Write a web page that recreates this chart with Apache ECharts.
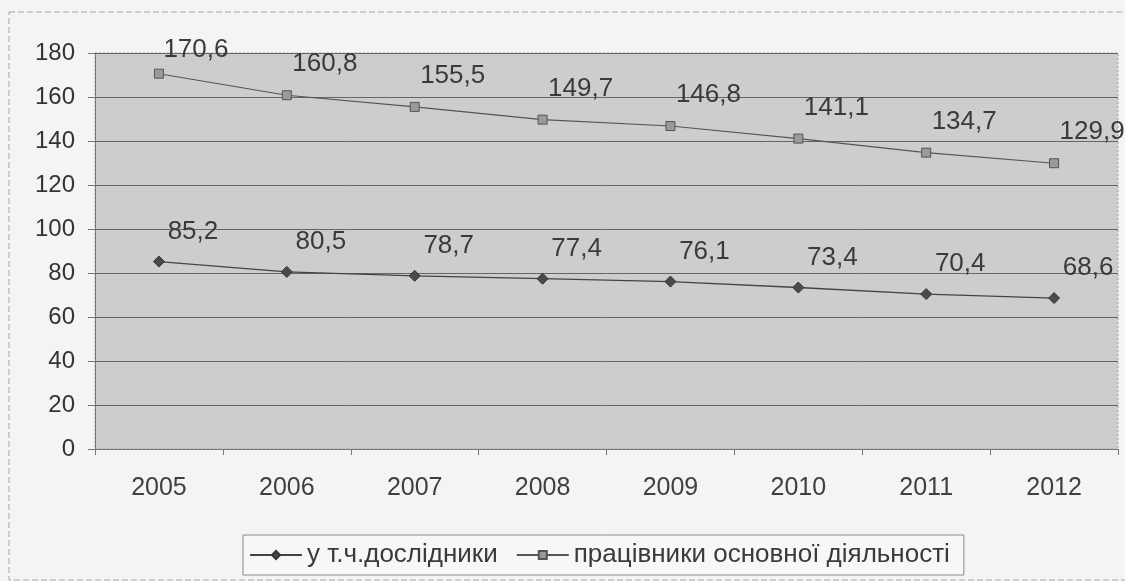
<!DOCTYPE html>
<html><head><meta charset="utf-8">
<script src="https://cdn.jsdelivr.net/npm/echarts@6/dist/echarts.min.js"></script>
<style>html,body{margin:0;padding:0;background:#f4f4f2;}#c{width:1125px;height:581px;}</style>
</head><body><div id="c"></div>
<script>
const years = ['2005','2006','2007','2008','2009','2010','2011','2012'];
const researchers = [85.2, 80.5, 78.7, 77.4, 76.1, 73.4, 70.4, 68.6];
const mainStaff = [170.6, 160.8, 155.5, 149.7, 146.8, 141.1, 134.7, 129.9];
const yTicks = [0, 20, 40, 60, 80, 100, 120, 140, 160, 180];
const seriesNames = ['у т.ч.дослідники', 'працівники основної діяльності'];

const fmt = p => String(p.value).replace('.', ',');
const font = 'Liberation Sans, Arial, sans-serif';
// first label of the upper series sits lower (constrained by top of plot)
const mainStaffData = mainStaff.map((v, i) => i === 0 ? {value: v, label: {offset: [37, -1]}} : v);

const chart = echarts.init(document.getElementById('c'));
chart.setOption({
  backgroundColor: '#f4f4f2',
  animation: false,
  graphic: [
    {type:'rect', shape:{x:9, y:12, width:1130, height:568}, style:{fill:'none', stroke:'#a5a5a5', lineWidth:1, lineDash:[6,3]}},
    {type:'rect', shape:{x:95, y:53, width:1023, height:396}, style:{fill:'#cdcdcb', stroke:'#a0a0a0', lineWidth:1, lineDash:[2,2]}, z:-1}
  ],
  grid: {left: 95, right: 7, top: 53, bottom: 132},
  legend: {
    bottom: 6, left: 243,
    data: seriesNames,
    itemWidth: 52, itemHeight: 10, itemGap: 18,
    padding: [7, 14, 7, 6],
    borderColor: '#8a8a8a', borderWidth: 1,
    backgroundColor: '#f7f7f5',
    textStyle: {fontFamily: font, fontSize: 26, color: '#3a3a3a'}
  },
  xAxis: {
    type: 'category', data: years, boundaryGap: true,
    axisLine: {lineStyle: {color: '#777', width: 1}},
    axisTick: {show: true, length: 6, lineStyle: {color: '#777'}},
    axisLabel: {fontFamily: font, fontSize: 25, color: '#3f3f3f', margin: 27}
  },
  yAxis: {
    type: 'value', min: 0, max: 180, interval: 20,
    axisLine: {show: true, lineStyle: {color: '#777'}},
    axisTick: {show: true, length: 7, lineStyle: {color: '#777'}},
    splitLine: {lineStyle: {color: '#666', width: 1}},
    axisLabel: {fontFamily: font, fontSize: 24, color: '#333', margin: 20,
      formatter: v => yTicks.includes(v) ? String(v) : ''}
  },
  series: [
    {
      name: seriesNames[0], type: 'line', data: researchers,
      symbol: 'diamond', symbolSize: 11,
      lineStyle: {color: '#444', width: 1.3},
      itemStyle: {color: '#4a4a4a', borderColor: '#333', borderWidth: 1},
      label: {show: true, position: 'top', offset: [34, -6], formatter: fmt,
        fontFamily: font, fontSize: 26, color: '#3a3a3a'}
    },
    {
      name: seriesNames[1], type: 'line', data: mainStaffData,
      symbol: 'rect', symbolSize: 9,
      lineStyle: {color: '#555', width: 1.1},
      itemStyle: {color: '#9a9a9a', borderColor: '#555', borderWidth: 1},
      label: {show: true, position: 'top', offset: [38, -8], formatter: fmt,
        fontFamily: font, fontSize: 26, color: '#3a3a3a'}
    }
  ]
});
</script></body></html>
